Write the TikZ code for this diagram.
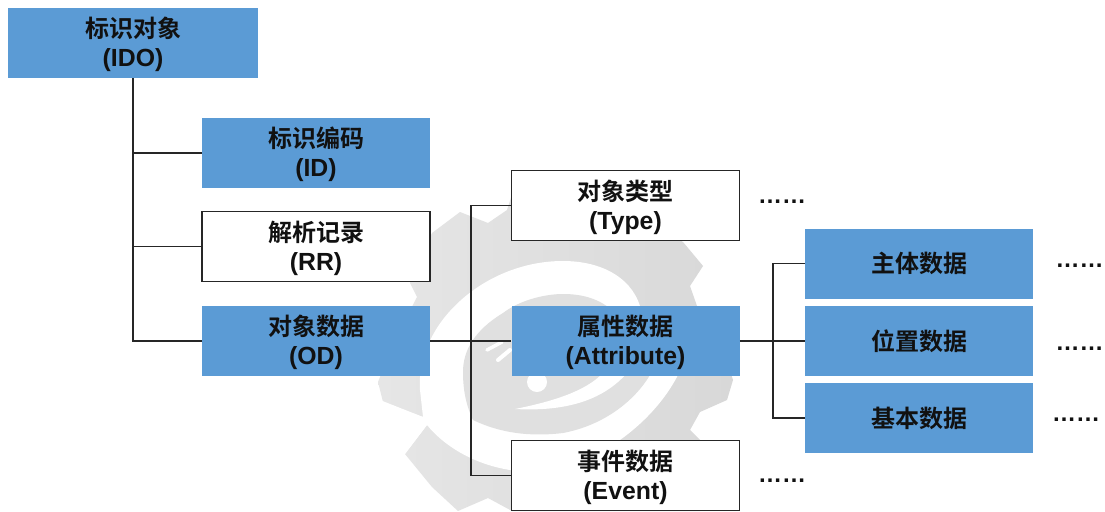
\documentclass[tikz,border=0pt]{standalone}
\usepackage{fontspec}
\setmainfont{Liberation Sans}
\newfontfamily\cjk{Noto Sans CJK SC}[BoldFont={Noto Sans CJK SC Bold}]
\definecolor{boxblue}{HTML}{5B9BD5}
\definecolor{wml}{HTML}{E6E6E6}
\definecolor{wmr}{HTML}{D8D8D8}
\definecolor{wmi}{HTML}{E0E0E0}
\definecolor{ink}{HTML}{111111}
\definecolor{wirec}{HTML}{262626}
\tikzset{
  lab/.style={minimum width=171pt,minimum height=52.5pt,inner sep=0pt,align=center,font=\fontsize{18.6pt}{21.9pt}\selectfont\bfseries,text=ink},
  bluebox/.style={lab,fill=boxblue},
  whitebox/.style={lab,fill=white,draw=wirec,line width=1pt},
  wire/.style={draw=wirec,line width=1pt},
  dots/.style={font=\fontsize{18pt}{20pt}\selectfont\bfseries,text=ink,inner sep=0pt,anchor=base}
}
\newcommand{\zh}[1]{{\cjk\fontsize{18pt}{21.9pt}\selectfont\bfseries #1}}
\newcommand{\zt}[1]{\rule{0pt}{17.5pt}\zh{#1}}
\begin{document}
\begin{tikzpicture}[x=0.75pt,y=-0.75pt]
\useasboundingbox (0,0) rectangle (1105,511);
\fill[white] (0,0) rectangle (1105,511);
% watermark
\begin{scope}
\clip (0,0) rectangle (1105,511);
\shade[left color=wml,right color=wmr,line join=round]
  (460,212) -- (488,223) -- (507,210) -- (520,170) -- (640,170) -- (655,225) -- (683,242)
  -- (703,266) -- (690,286) -- (697,306) -- (720,340) -- (733,380) -- (727,400) -- (700,412)
  -- (690,430) -- (700,440) -- (700,511) -- (512,511) -- (488,498) -- (458,511)
  -- (432,487) -- (405,454) -- (427,425) -- (423,417) -- (383,402) -- (378,382) -- (395,340)
  -- (417,297) -- (410,283) -- (432,233) -- cycle;
\fill[white]
  (640,306) .. controls (630,275) and (598,261) .. (563,261)
  .. controls (520,261) and (478,280) .. (450,311)
  .. controls (428,335) and (418,365) .. (420,390)
  -- (423,417) -- (380,400) -- (370,405) -- (370,460) -- (405,454) -- (427,425)
  .. controls (445,447) and (480,470) .. (530,472)
  .. controls (565,472) and (600,458) .. (620,440)
  .. controls (645,422) and (665,400) .. (678,375)
  -- (690,340) -- cycle;
\fill[wmi]
  (463,372) .. controls (463,350) and (475,330) .. (503,313)
  .. controls (520,300) and (545,294) .. (563,294)
  .. controls (585,294) and (600,300) .. (612,310)
  -- (650,375)
  .. controls (635,400) and (605,425) .. (563,433)
  .. controls (530,437) and (500,433) .. (473,420)
  .. controls (466,405) and (463,390) .. (463,372) -- cycle;
\fill[white]
  (515,409) .. controls (550,402) and (585,392) .. (603,373)
  -- (627,373) .. controls (605,398) and (570,412) .. (515,409) -- cycle;
\fill[white] (537,382) circle (10);
\draw[white,line width=3pt,line cap=round] (498,360) -- (510,350);
\draw[white,line width=2.6pt,line cap=round] (487,350) -- (502,342);
\end{scope}
% boxes
\node[bluebox,minimum width=187.5pt,minimum height=52.5pt] (ido) at (133,43) {\zt{标识对象}\\(IDO)};
\node[bluebox] (id) at (316,153) {\zt{标识编码}\\(ID)};
\node[whitebox] (rr) at (316,246.5) {\zt{解析记录}\\(RR)};
\node[bluebox] (od) at (316,341) {\zt{对象数据}\\(OD)};
\node[whitebox] (type) at (625.5,205.5) {\zt{对象类型}\\(Type)};
\node[bluebox] (attr) at (625.5,341) {\zt{属性数据}\\(Attribute)};
\node[whitebox] (event) at (625.5,475.5) {\zt{事件数据}\\(Event)};
\node[bluebox] (subj) at (919,263.5) {\zh{主体数据}};
\node[bluebox] (pos) at (919,341) {\zh{位置数据}};
\node[bluebox] (basic) at (919,418) {\zh{基本数据}};
% dots
\node[dots] (d1) at (782,203) {……};
\node[dots] (d2) at (782,482) {……};
\node[dots] (d3) at (1079.5,267.5) {……};
\node[dots] (d4) at (1079.5,350.5) {……};
\node[dots] (d5) at (1076,421) {……};
% connectors
\coordinate (tr1) at (133,341);
\coordinate (tr2) at (471,341);
\coordinate (tr3) at (773,341);
\draw[wire] (ido.south -| tr1) -- (tr1) -- (od.west);
\draw[wire] (id.west) -- (id.west -| tr1);
\draw[wire] (rr.west) -- (rr.west -| tr1);
\draw[wire] (od.east) -- (attr.west);
\draw[wire] (type.west) -- (type.west -| tr2) -- (event.west -| tr2) -- (event.west);
\draw[wire] (attr.east) -- (pos.west);
\draw[wire] (subj.west) -- (subj.west -| tr3) -- (basic.west -| tr3) -- (basic.west);
\end{tikzpicture}
\end{document}
